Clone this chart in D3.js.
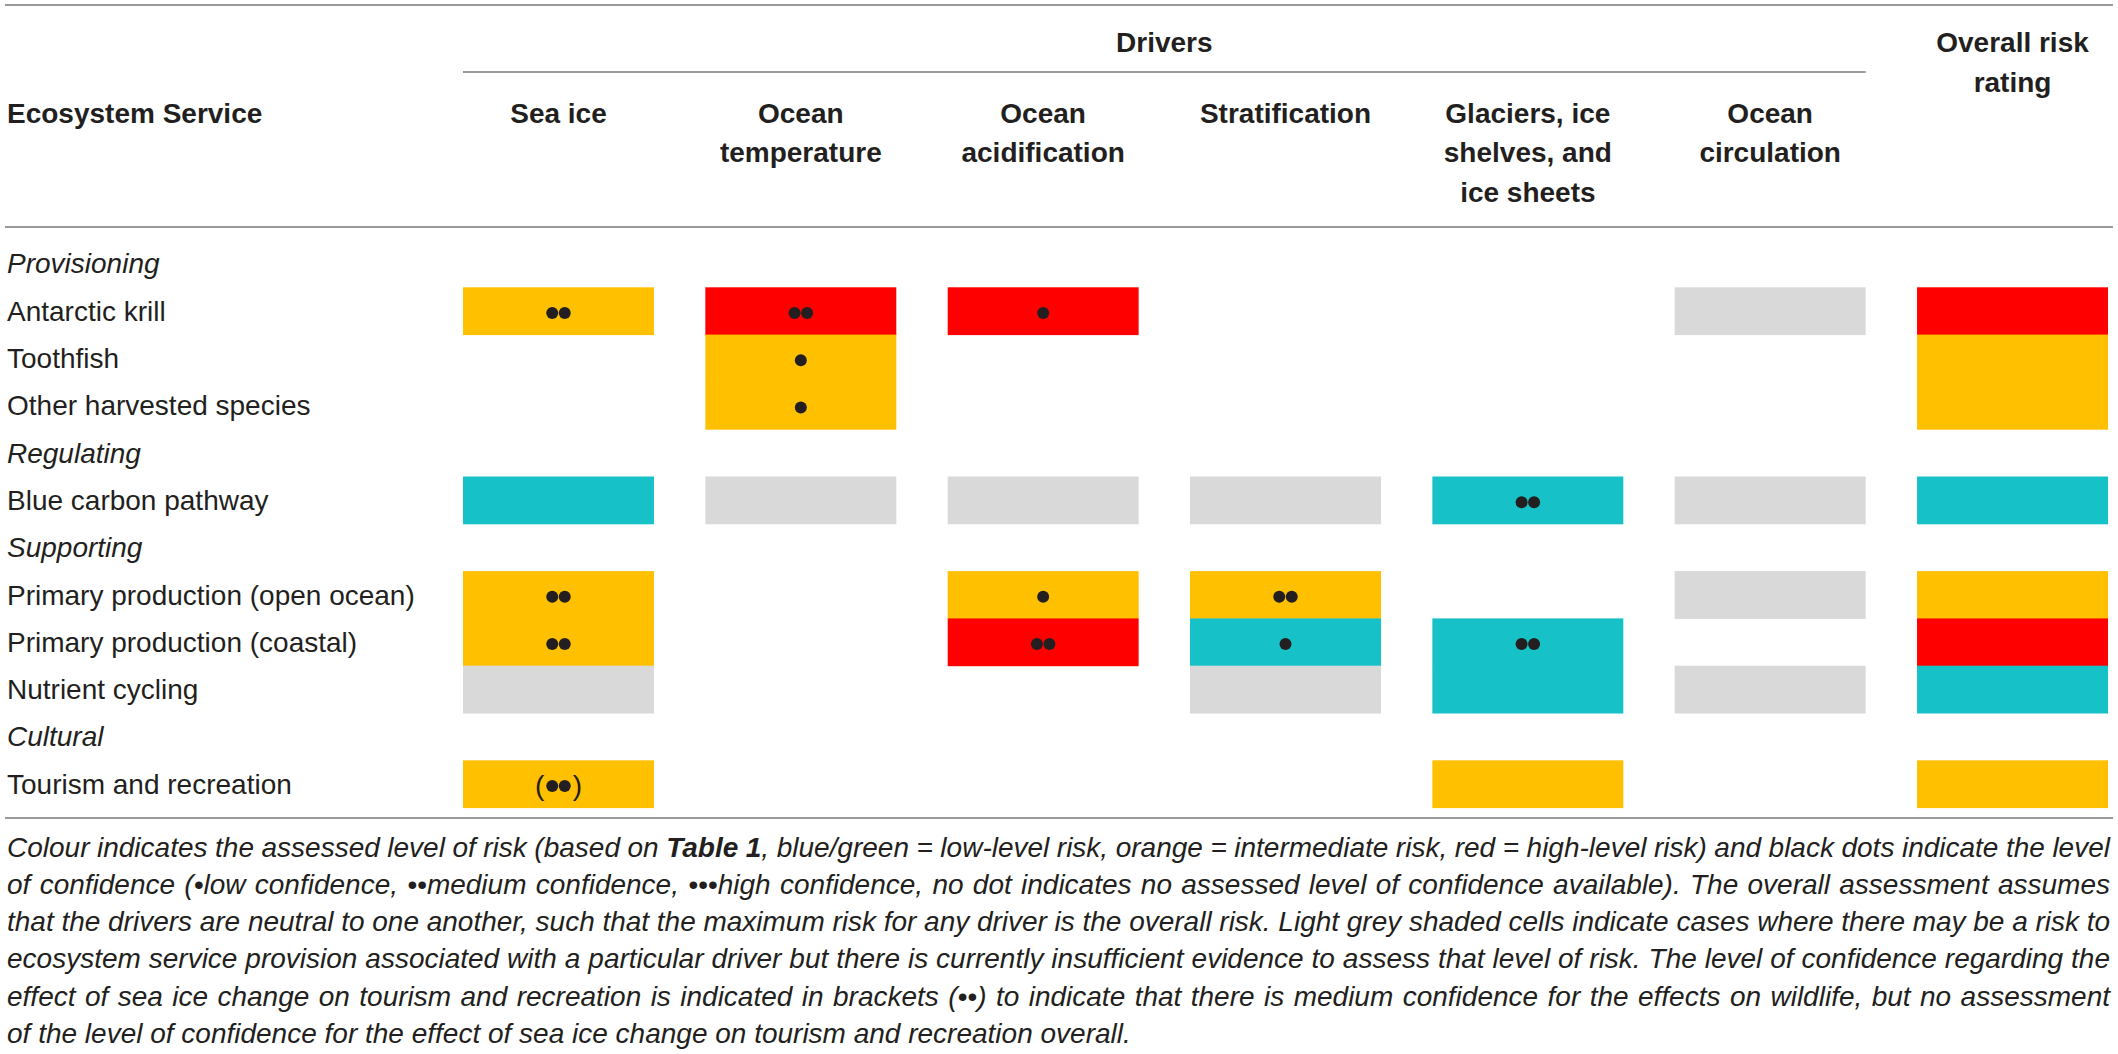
<!DOCTYPE html>
<html>
<head>
<meta charset="utf-8">
<script src="https://cdn.jsdelivr.net/npm/d3@7"></script>
<style>
  body { margin: 0; background: #fff; }
  text { font-family: 'Liberation Sans Narrow', 'Arial Narrow', 'Liberation Sans', sans-serif; fill: #231f20; }
</style>
</head>
<body>
<script>
const container = d3.select('body');

// columns of the table (drivers + overall)
const columns = ['Sea ice', 'Ocean temperature', 'Ocean acidification', 'Stratification',
    'Glaciers, ice shelves, and ice sheets', 'Ocean circulation', 'Overall risk rating'];
const headerLines = [['Sea ice'], ['Ocean', 'temperature'], ['Ocean', 'acidification'],
    ['Stratification'], ['Glaciers, ice', 'shelves, and', 'ice sheets'], ['Ocean', 'circulation']];
const overallHeader = ['Overall risk', 'rating'];

// rows, group headings in italics
const rowLabels = ['Provisioning', 'Antarctic krill', 'Toothfish', 'Other harvested species',
    'Regulating', 'Blue carbon pathway', 'Supporting', 'Primary production (open ocean)',
    'Primary production (coastal)', 'Nutrient cycling', 'Cultural', 'Tourism and recreation'];
const groupRows = ['Provisioning', 'Regulating', 'Supporting', 'Cultural'];

const services = ['Antarctic krill', 'Toothfish', 'Other harvested species', 'Blue carbon pathway',
    'Primary production (open ocean)', 'Primary production (coastal)', 'Nutrient cycling',
    'Tourism and recreation'];

// L = low (blue/green), M = intermediate, H = high, G = insufficient evidence (grey)
const riskGrid = [
    ['M', 'H', 'H', '',  '',  'G', 'H'],
    ['',  'M', '',  '',  '',  '',  'M'],
    ['',  'M', '',  '',  '',  '',  'M'],
    ['L', 'G', 'G', 'G', 'L', 'G', 'L'],
    ['M', '',  'M', 'M', '',  'G', 'M'],
    ['M', '',  'H', 'L', 'L', '',  'H'],
    ['G', '',  '',  'G', 'L', 'G', 'L'],
    ['M', '',  '',  '',  'M', '',  'M']
];
// number of confidence dots
const confGrid = [
    [2, 2, 1, 0, 0, 0, 0],
    [0, 1, 0, 0, 0, 0, 0],
    [0, 1, 0, 0, 0, 0, 0],
    [0, 0, 0, 0, 2, 0, 0],
    [2, 0, 1, 2, 0, 0, 0],
    [2, 0, 2, 1, 2, 0, 0],
    [0, 0, 0, 0, 0, 0, 0],
    [2, 0, 0, 0, 0, 0, 0]
];
const bracketed = [['Tourism and recreation', 'Sea ice']];

const riskColors = { L: '#16c2c7', M: '#ffc000', H: '#ff0000', G: '#d9d9d9' };

const captionLines = [
    [['Colour indicates the assessed level of risk (based on ', ''], ['Table 1', 'b'], [', blue/green = low-level risk, orange = intermediate risk, red = high-level risk) and black dots indicate the level', '']],
    [['of confidence (\u2022low confidence, \u2022\u2022medium confidence, \u2022\u2022\u2022high confidence, no dot indicates no assessed level of confidence available). The overall assessment assumes', '']],
    [['that the drivers are neutral to one another, such that the maximum risk for any driver is the overall risk. Light grey shaded cells indicate cases where there may be a risk to', '']],
    [['ecosystem service provision associated with a particular driver but there is currently insufficient evidence to assess that level of risk. The level of confidence regarding the', '']],
    [['effect of sea ice change on tourism and recreation is indicated in brackets (\u2022\u2022) to indicate that there is medium confidence for the effects on wildlife, but no assessment', '']],
    [['of the level of confidence for the effect of sea ice change on tourism and recreation overall.', '']]
];

const outerW = 2118,
    outerH = 1054,
    left = 7,
    right = 2110,
    fs = 28;

const svg = container.append('svg')
    .attr('width', outerW)
    .attr('height', outerH);

const x = d3.scaleBand()
    .domain(columns)
    .range([463, 2108])
    .paddingInner(0.212)
    .paddingOuter(0);

const y = d3.scaleBand()
    .domain(rowLabels)
    .range([240, 240 + 47.3 * rowLabels.length]);

// rules
const rules = [
    { x1: 5, x2: 2113, y: 5 },
    { x1: x(columns[0]), x2: x(columns[5]) + x.bandwidth(), y: 72 },
    { x1: 5, x2: 2113, y: 227 },
    { x1: 5, x2: 2113, y: 818 }
];
svg.selectAll('.rule')
    .data(rules)
    .enter()
    .append('line')
    .attr('class', 'rule')
    .attr('x1', d => d.x1)
    .attr('x2', d => d.x2)
    .attr('y1', d => d.y)
    .attr('y2', d => d.y)
    .attr('stroke', '#9a9a9a')
    .attr('stroke-width', 2);

// header
const head = svg.append('g').style('font-weight', 'bold').style('font-size', fs + 'px');

head.append('text')
    .attr('x', (x(columns[0]) + x(columns[5]) + x.bandwidth()) / 2)
    .attr('y', 42)
    .attr('dy', '0.35em')
    .attr('text-anchor', 'middle')
    .text('Drivers');

head.append('text')
    .attr('x', left)
    .attr('y', 113)
    .attr('dy', '0.35em')
    .text('Ecosystem Service');

headerLines.forEach((lines, i) => {
    head.selectAll(null)
        .data(lines)
        .enter()
        .append('text')
        .attr('x', x(columns[i]) + x.bandwidth() / 2)
        .attr('y', (d, j) => 113 + j * 39.5)
        .attr('dy', '0.35em')
        .attr('text-anchor', 'middle')
        .text(d => d);
});

head.selectAll(null)
    .data(overallHeader)
    .enter()
    .append('text')
    .attr('x', x(columns[6]) + x.bandwidth() / 2)
    .attr('y', (d, j) => 42 + j * 40.5)
    .attr('dy', '0.35em')
    .attr('text-anchor', 'middle')
    .text(d => d);

// row labels
svg.append('g')
    .selectAll('text')
    .data(rowLabels)
    .enter()
    .append('text')
    .attr('x', left)
    .attr('y', d => y(d) + y.bandwidth() / 2)
    .attr('dy', '0.35em')
    .style('font-size', fs + 'px')
    .style('font-style', d => groupRows.includes(d) ? 'italic' : 'normal')
    .text(d => d);

// cells
const cells = [];
services.forEach((s, r) => {
    columns.forEach((c, k) => {
        const risk = riskGrid[r][k];
        if (!risk) return;
        cells.push({
            row: s,
            col: c,
            risk: risk,
            dots: confGrid[r][k],
            bracket: bracketed.some(b => b[0] === s && b[1] === c)
        });
    });
});

const gs = svg.append('g')
    .selectAll('.cell')
    .data(cells)
    .enter()
    .append('g')
    .attr('class', 'cell')
    .attr('transform', d => `translate(${x(d.col)}, ${y(d.row)})`);

gs.append('rect')
    .attr('x', 0)
    .attr('y', 0)
    .attr('width', x.bandwidth())
    .attr('height', y.bandwidth() + 0.5)
    .attr('fill', d => riskColors[d.risk]);

const dotGap = 12.5;
gs.each(function(d) {
    const g = d3.select(this);
    const cx = x.bandwidth() / 2,
        cy = y.bandwidth() / 2 + 2;
    const offs = d3.range(d.dots).map(i => (i - (d.dots - 1) / 2) * dotGap);
    g.selectAll('circle')
        .data(offs)
        .enter()
        .append('circle')
        .attr('cx', o => cx + o)
        .attr('cy', cy)
        .attr('r', 6)
        .attr('fill', '#231f20');
    if (d.bracket) {
        const half = d3.max(offs) + 8;
        g.append('text')
            .attr('x', cx - half)
            .attr('y', cy)
            .attr('dy', '0.33em')
            .attr('text-anchor', 'end')
            .style('font-size', fs + 'px')
            .text('(');
        g.append('text')
            .attr('x', cx + half)
            .attr('y', cy)
            .attr('dy', '0.33em')
            .style('font-size', fs + 'px')
            .text(')');
    }
});

// caption, justified except the last line
const cap = svg.append('g').style('font-size', fs + 'px').style('font-style', 'italic');
captionLines.forEach((segs, i) => {
    const t = cap.append('text')
        .attr('x', left)
        .attr('y', 847 + i * 37.2)
        .attr('dy', '0.35em');
    segs.forEach(s => {
        t.append('tspan')
            .style('font-weight', s[1] === 'b' ? 'bold' : 'normal')
            .text(s[0]);
    });
    if (i < captionLines.length - 1) {
        const natural = t.node().getComputedTextLength();
        const spaces = segs.map(s => s[0]).join('').split(' ').length - 1;
        t.style('word-spacing', ((right - left - natural) / spaces) + 'px');
    }
});
</script>
</body>
</html>
